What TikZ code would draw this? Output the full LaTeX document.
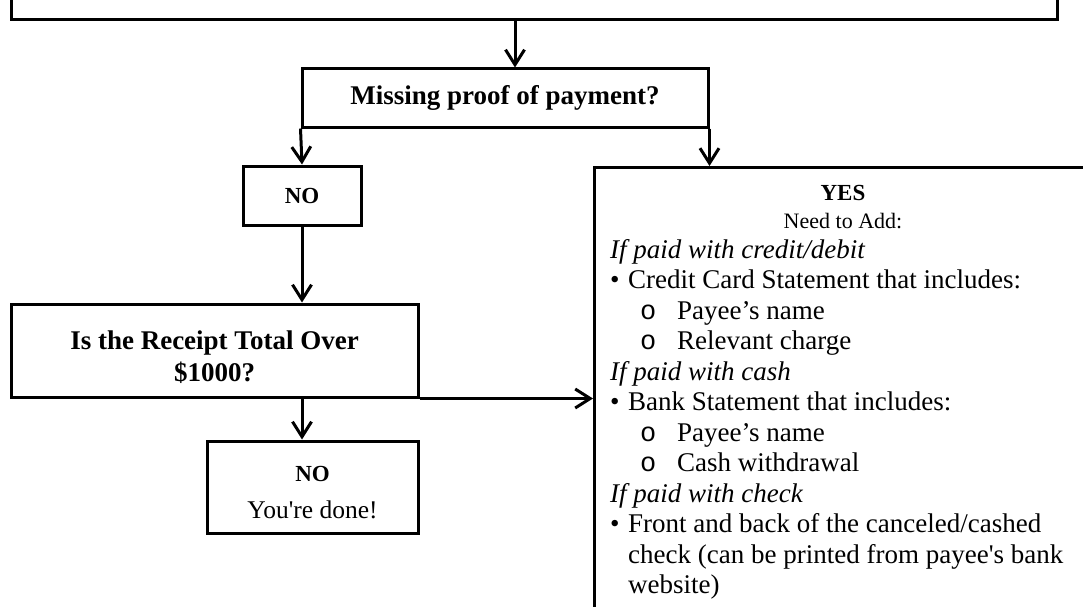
\documentclass[tikz,border=0pt]{standalone}
\usepackage{fontspec}
\setmainfont{Liberation Serif}
\setmonofont{Liberation Mono}
\usetikzlibrary{arrows.meta}

\tikzset{
  box/.style={draw, line width=3pt, inner sep=0pt, align=center},
  arrow/.style={line width=3pt, -{Straight Barb[length=15pt,width=19pt]}},
  head/.style={font=\fontsize{27}{32}\selectfont\bfseries, align=center},
}

\begin{document}
\begin{tikzpicture}[x=1pt,y=-1pt]
  \useasboundingbox (0,0) rectangle (1083,607);
  \clip (0,0) rectangle (1083,607);
  % previous step, cut off at the top
  \node[box, anchor=south west, minimum width=1046pt, minimum height=80pt] (prev) at (10,21) {};
  % first question
  \node[box, minimum width=406pt, minimum height=58pt, head] (missing) at (505,98) {Missing proof of payment?};
  \coordinate (in) at ([xshift=10pt]missing.north);
  % left branch
  \node[box, minimum width=118pt, minimum height=59pt, font=\fontsize{23}{28}\selectfont\bfseries] (no) at (302,195.5) {NO};
  \node[box, minimum width=407pt, minimum height=93pt] (receipt) at (214.5,350.5) {};
  \node[head] (receipttext) at (214.5,357) {Is the Receipt Total Over\\\$1000?};
  \node[box, minimum width=211pt, minimum height=92pt] (done) at (312.5,487) {};
  \node[font=\fontsize{25.5}{31}\selectfont, align=center] (donetext) at (312.5,493) {\textbf{\fontsize{23}{28}\selectfont NO}\\[6pt]You\textquotesingle re done!};
  % right branch, runs off the page
  \node[box, anchor=north west, minimum width=520pt, minimum height=480pt] (yes) at (593,166) {};
  \node[font=\fontsize{23}{28}\selectfont\bfseries] (yestitle) at (843,193) {YES};
  \node[font=\fontsize{22}{26}\selectfont] (yesneed) at (843,221) {Need to Add:};
  \node[anchor=base west, text width=480pt, align=flush left, inner sep=0pt, font=\fontsize{27}{30.5}\selectfont] (yeslist) at (610,258) {%
    \textit{If paid with credit/debit}\\
    \makebox[18pt][l]{\textbullet}Credit Card Statement that includes:\\
    \hspace*{30pt}\makebox[37pt][l]{\ttfamily o}Payee’s name\\
    \hspace*{30pt}\makebox[37pt][l]{\ttfamily o}Relevant charge\\
    \textit{If paid with cash}\\
    \makebox[18pt][l]{\textbullet}Bank Statement that includes:\\
    \hspace*{30pt}\makebox[37pt][l]{\ttfamily o}Payee’s name\\
    \hspace*{30pt}\makebox[37pt][l]{\ttfamily o}Cash withdrawal\\
    \textit{If paid with check}\\
    \makebox[18pt][l]{\textbullet}Front and back of the canceled/cashed\\
    \hspace*{18pt}check (can be printed from payee\textquotesingle s bank\\
    \hspace*{18pt}website)};
  % connectors
  \draw[arrow] (prev.south -| in) -- (in);
  \draw[arrow] (missing.south west) -- (no.north);
  \draw[arrow] (missing.south east) -- (missing.south east |- yes.north);
  \draw[arrow] (no.south) -- (no.south |- receipt.north);
  \draw[arrow] (receipt.south -| no.south) -- (done.north -| no.south);
  \draw[arrow] (receipt.south east) -- (receipt.south east -| yes.west);
\end{tikzpicture}
\end{document}
